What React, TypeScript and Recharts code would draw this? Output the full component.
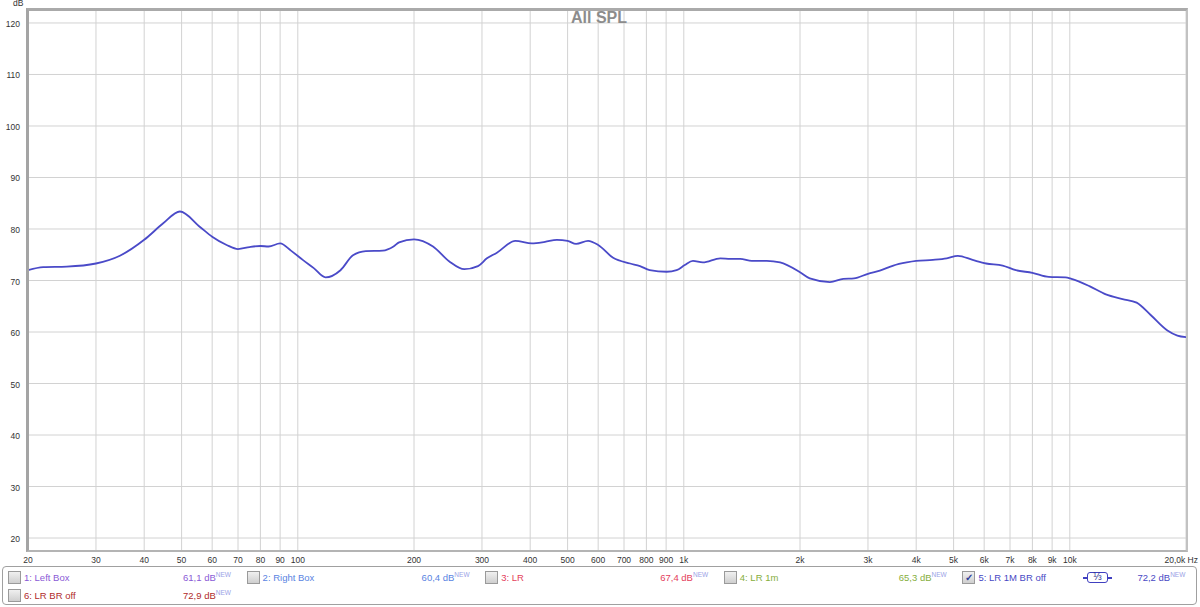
import { LineChart, Line, XAxis, YAxis, CartesianGrid } from "recharts";

// frequency points (Hz) and smoothed SPL (dB)
const freqs = [
  20, 21.9, 25.2, 30, 34.6, 40, 44.8, 49.5, 55.8, 60, 65.4, 70, 75, 80, 84, 90, 96, 103,
  110, 118, 129, 139, 150, 166, 177, 183, 200, 224, 247, 270, 293, 309, 328, 366, 404,
  437, 469, 500, 526, 565, 600, 656, 726, 770, 816, 903, 958, 1006, 1056, 1120, 1243,
  1320, 1400, 1500, 1640, 1776, 2000, 2120, 2390, 2590, 2760, 3000, 3220, 3490, 3780,
  4000, 4420, 4800, 5130, 5600, 6070, 6700, 7250, 8000, 8820, 9740, 10100, 11240,
  12400, 13700, 14900, 16200, 17900, 19000, 20000,
];
const spl = [
  72.0, 72.6, 72.7, 73.3, 74.8, 77.9, 81.1, 83.4, 80.4, 78.5, 76.9, 76.1, 76.5, 76.7,
  76.6, 77.2, 75.8, 74.0, 72.4, 70.6, 72.0, 74.9, 75.7, 75.8, 76.6, 77.4, 78.0, 76.6,
  73.7, 72.2, 72.8, 74.3, 75.4, 77.7, 77.2, 77.5, 77.9, 77.7, 77.1, 77.7, 76.9, 74.4,
  73.3, 72.8, 72.0, 71.7, 72.0, 73.0, 73.8, 73.5, 74.3, 74.2, 74.2, 73.8, 73.8, 73.5,
  71.6, 70.4, 69.7, 70.3, 70.4, 71.3, 71.9, 72.9, 73.5, 73.8, 74.0, 74.3, 74.8, 74.0,
  73.3, 72.9, 72.0, 71.5, 70.7, 70.6, 70.3, 68.9, 67.3, 66.4, 65.7, 63.3, 60.3, 59.3,
  59.0,
];

const xTicks = [
  20, 30, 40, 50, 60, 70, 80, 90, 100, 200, 300, 400, 500, 600, 700, 800, 900, 1000,
  2000, 3000, 4000, 5000, 6000, 7000, 8000, 9000, 10000, 20000,
];
const xLabels = [
  "20", "30", "40", "50", "60", "70", "80", "90", "100", "200", "300", "400", "500",
  "600", "700", "800", "900", "1k", "2k", "3k", "4k", "5k", "6k", "7k", "8k", "9k",
  "10k", "20,0k Hz",
];
const yTicks = [20, 30, 40, 50, 60, 70, 80, 90, 100, 110, 120];

// legend rows of the measurement panel
const legendNames = ["1: Left Box", "2: Right Box", "3: LR", "4: LR 1m", "5: LR 1M BR off", "6: LR BR off"];
const legendValues = ["61,1", "60,4", "67,4", "65,3", "72,2", "72,9"];
const legendColors = ["#8a5ad6", "#5a84e2", "#e4405c", "#86ae3c", "#4848c4", "#b02a2a"];
const legendChecked = [false, false, false, false, true, false];

const data = freqs.map((f, i) => ({ f, db: spl[i] }));

const labelFont = "'Liberation Sans', Arial, sans-serif";

const XTick = ({ x, y, payload }: any) => {
  const idx = xTicks.indexOf(payload.value);
  const last = idx === xTicks.length - 1;
  return (
    <text
      x={last ? x + 12 : x}
      y={y + 12}
      textAnchor={last ? "end" : "middle"}
      fontSize={8.5}
      fontFamily={labelFont}
      fill="#333"
    >
      {xLabels[idx]}
    </text>
  );
};

const YTick = ({ y, payload }: any) => (
  <text x={20} y={y + 4} textAnchor="end" fontSize={8.5} fontFamily={labelFont} fill="#333">
    {payload.value}
  </text>
);

function Checkbox({ checked }: { checked: boolean }) {
  return (
    <div
      style={{
        position: "absolute",
        width: 11,
        height: 11,
        border: "1px solid #9a9a9a",
        background: "linear-gradient(#f0f0f0, #cfcfcf)",
        fontSize: 10,
        lineHeight: "11px",
        textAlign: "center",
        color: "#30409a",
        fontWeight: 700,
      }}
    >
      {checked ? "✓" : ""}
    </div>
  );
}

function LegendItem({ i, left, top }: { i: number; left: number; top: number }) {
  const c = legendColors[i];
  return (
    <>
      <div style={{ position: "absolute", left, top }}>
        <Checkbox checked={legendChecked[i]} />
      </div>
      <div style={{ position: "absolute", left: left + 16, top: top, color: c, fontSize: 9.5, lineHeight: "13px" }}>
        {legendNames[i]}
      </div>
      <div style={{ position: "absolute", left: left + 175, top: top, color: c, fontSize: 9.5, lineHeight: "13px", whiteSpace: "nowrap" }}>
        {legendValues[i]} dB
        <sup style={{ fontSize: 6.5, color: "#9aa2e6", verticalAlign: "top", position: "relative", top: -3 }}>NEW</sup>
      </div>
    </>
  );
}

export default function App() {
  const colStep = 238.6;
  return (
    <div style={{ position: "absolute", left: 0, top: 0, width: 1200, height: 607, background: "#fff", fontFamily: labelFont }}>
      <LineChart width={1200} height={607} data={data} margin={{ top: 10, right: 14, bottom: 36, left: 0 }}>
        <CartesianGrid stroke="#d2d2d2" strokeWidth={1} />
        <XAxis
          dataKey="f"
          type="number"
          scale="log"
          domain={[20, 20000]}
          ticks={xTicks}
          interval={0}
          allowDataOverflow
          axisLine={false}
          tickLine={false}
          tickSize={0}
          tickMargin={0}
          height={20}
          tick={<XTick />}
        />
        <YAxis
          type="number"
          domain={[17.48, 122.52]}
          ticks={yTicks}
          interval={0}
          allowDataOverflow
          axisLine={false}
          tickLine={false}
          width={28}
          tick={<YTick />}
        />
        <Line
          type="monotone"
          dataKey="db"
          stroke="#4a4ac8"
          strokeWidth={1.8}
          dot={false}
          isAnimationActive={false}
        />
      </LineChart>

      {/* plot frame */}
      <div
        style={{
          position: "absolute",
          left: 26,
          top: 8,
          width: 1162,
          height: 544,
          boxSizing: "border-box",
          borderLeft: "3px solid #a4a4a4",
          borderTop: "3px solid #aaaaaa",
          borderRight: "2px solid #c2c2c2",
          borderBottom: "2px solid #b4b4b4",
          pointerEvents: "none",
        }}
      />
      <div style={{ position: "absolute", left: 13, top: -2, fontSize: 8.5, color: "#333" }}>dB</div>
      <div
        style={{
          position: "absolute",
          left: 0,
          width: 1198,
          top: 9,
          textAlign: "center",
          fontSize: 16,
          fontWeight: 700,
          color: "#8c8c8c",
          lineHeight: "18px",
        }}
      >
        All SPL
      </div>

      {/* measurement legend */}
      <div
        style={{
          position: "absolute",
          left: 2,
          top: 566,
          width: 1195,
          height: 39,
          boxSizing: "border-box",
          border: "1px solid #a0a0a0",
          borderRadius: 4,
        }}
      />
      {[0, 1, 2, 3, 4].map((i) => (
        <LegendItem key={i} i={i} left={8 + i * colStep} top={571} />
      ))}
      <LegendItem i={5} left={8} top={589} />

      {/* 1/3 octave smoothing badge */}
      <div style={{ position: "absolute", left: 1083, top: 577, width: 29, height: 1.5, background: "#4040c0" }} />
      <div
        style={{
          position: "absolute",
          left: 1087,
          top: 572,
          width: 21,
          height: 11,
          boxSizing: "border-box",
          border: "1.5px solid #4040c0",
          borderRadius: 3,
          background: "#fff",
          fontSize: 10,
          lineHeight: "8px",
          textAlign: "center",
          color: "#303090",
        }}
      >
        ⅓
      </div>
    </div>
  );
}
